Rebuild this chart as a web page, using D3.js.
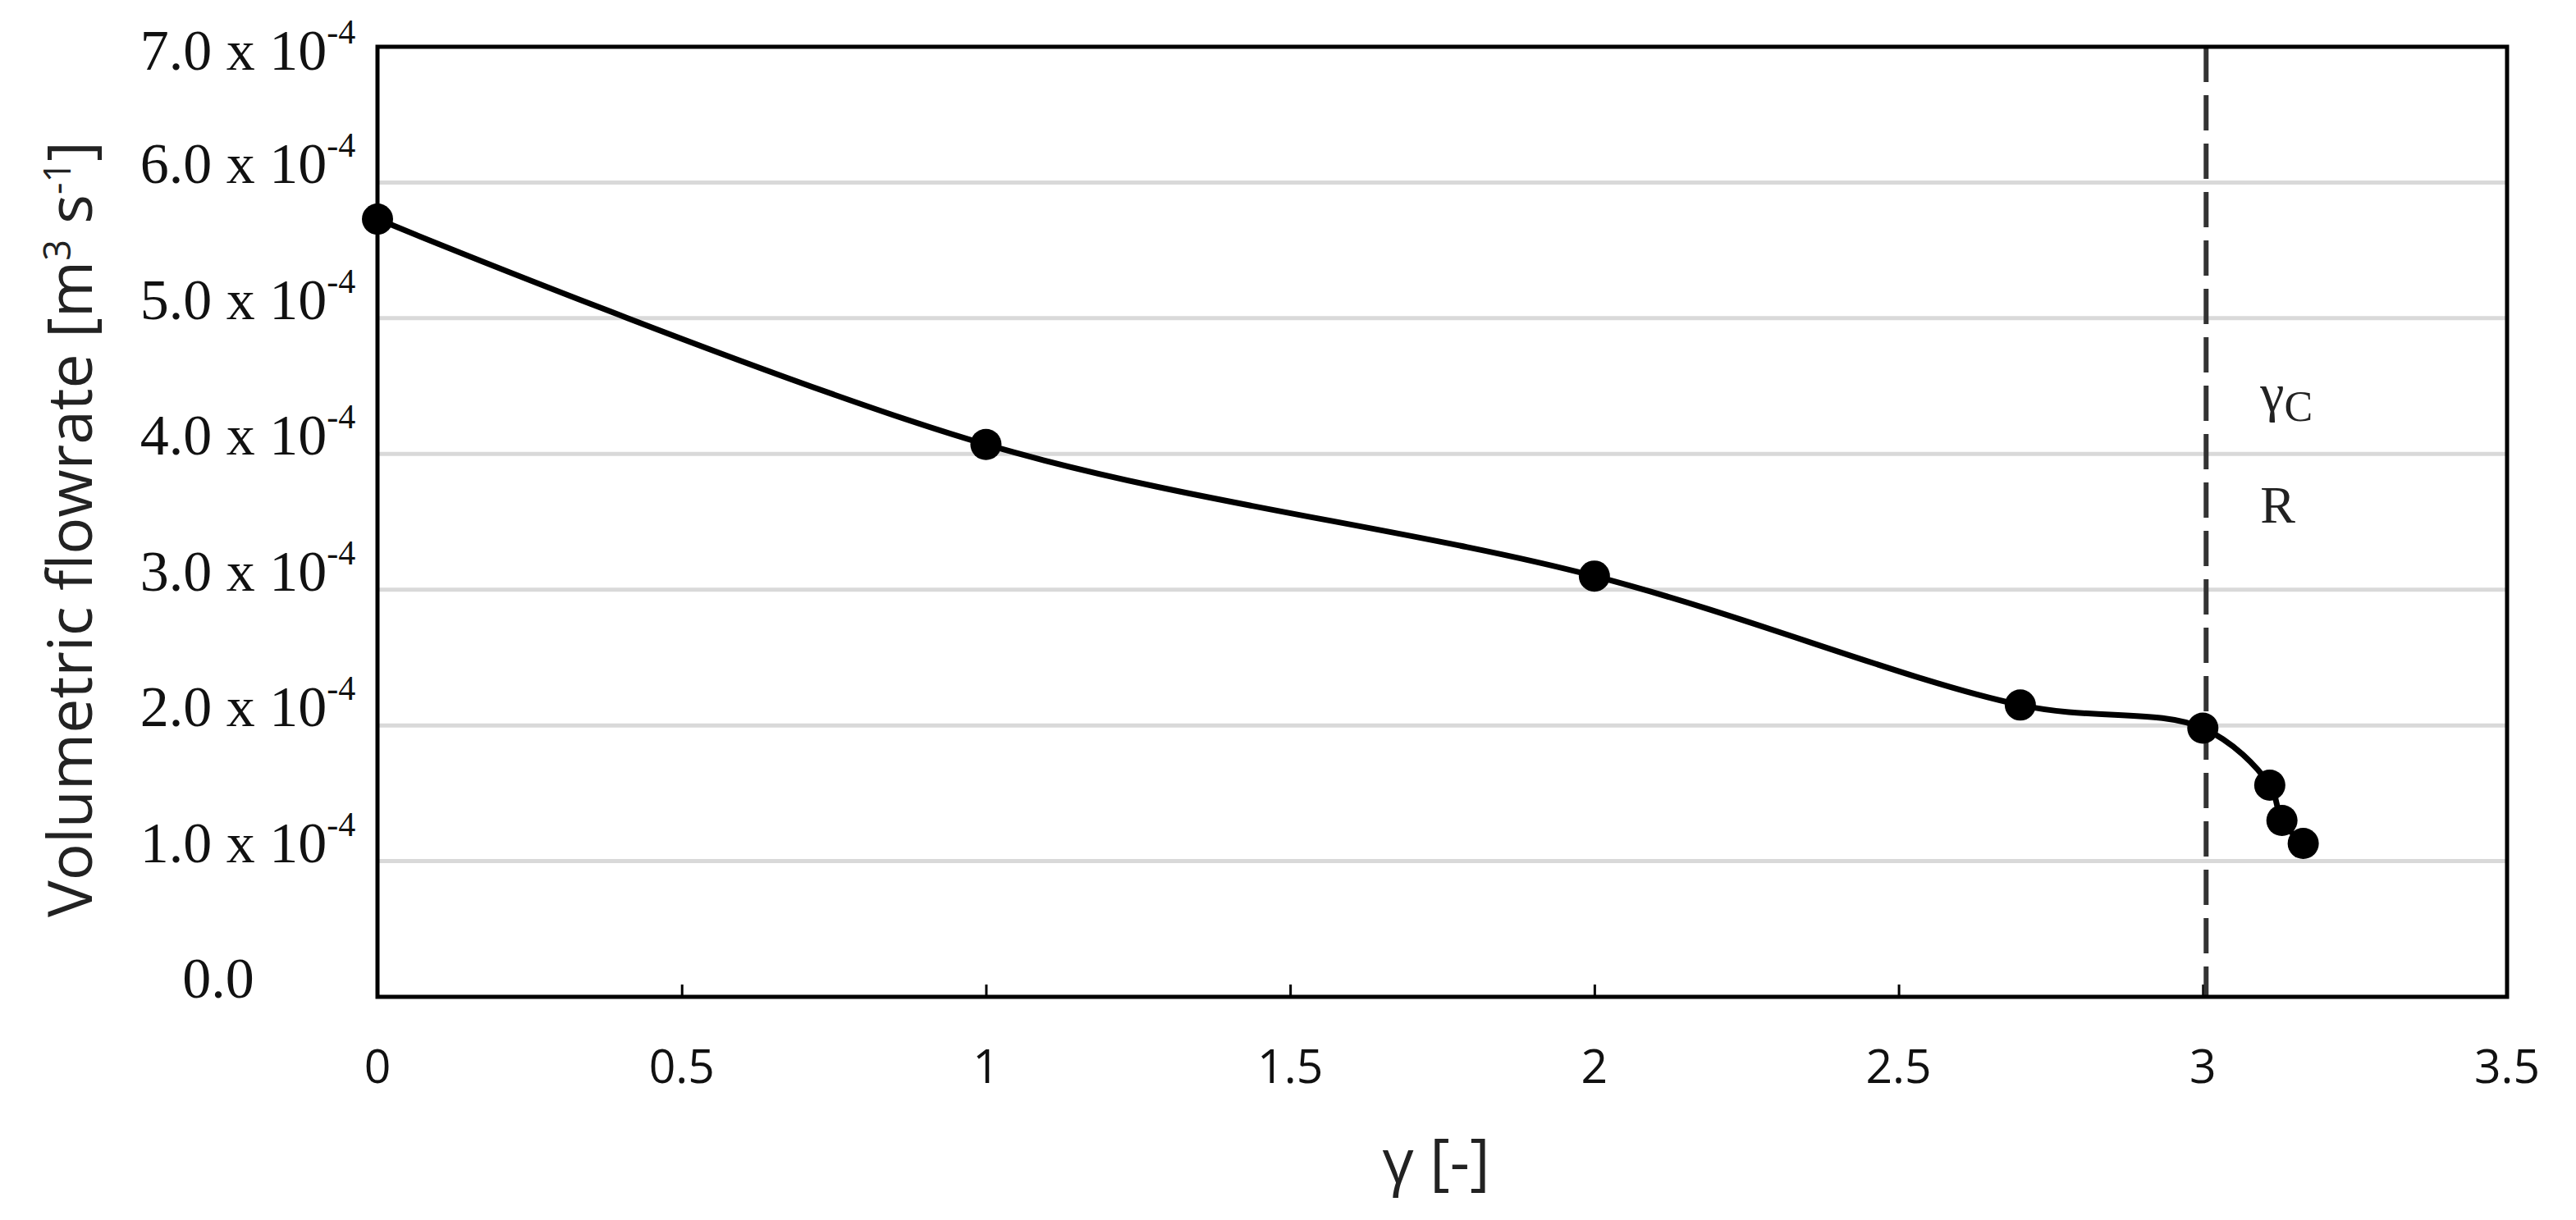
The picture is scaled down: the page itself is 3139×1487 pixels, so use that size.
<!DOCTYPE html>
<html>
<head>
<meta charset="utf-8">
<title>Volumetric flowrate vs gamma</title>
<script src="https://cdn.jsdelivr.net/npm/d3@7"></script>
<style>
    body { margin: 0; background: #ffffff; }
    svg { display: block; }
</style>
</head>
<body>
<div id="chart"></div>
<script>

//=================== DATA ====================================
var gammaValues = [0, 1, 2, 2.7, 3, 3.11, 3.13, 3.165];
var flowrateValues = [5.73e-4, 4.07e-4, 3.10e-4, 2.15e-4, 1.98e-4, 1.56e-4, 1.30e-4, 1.13e-4];

var xTickValues = [0, 0.5, 1, 1.5, 2, 2.5, 3, 3.5];
var xTickLabels = ["0", "0.5", "1", "1.5", "2", "2.5", "3", "3.5"];
var yTickValues = [0, 1e-4, 2e-4, 3e-4, 4e-4, 5e-4, 6e-4, 7e-4];
var yTickMantissas = ["0.0", "1.0", "2.0", "3.0", "4.0", "5.0", "6.0", "7.0"];
var yTickExponent = "-4";

var criticalGamma = 3;

//=================== LAYOUT ====================================
var svgWidth = 3139;
var svgHeight = 1487;
var plotLeft = 460,
    plotRight = 3055,
    plotTop = 57,
    plotBottom = 1215;

var sansFont = "'Open Sans', 'Noto Sans', sans-serif";
var serifFont = "'Liberation Serif', 'DejaVu Serif', serif";

var svg = d3.select("#chart")
    .append("svg")
    .attr("width", svgWidth)
    .attr("height", svgHeight);

var xScale = d3.scaleLinear().domain([0, 3.5]).range([plotLeft, plotRight]);
var yScale = d3.scaleLinear().domain([0, 7e-4]).range([plotBottom, plotTop]);

//=================== GRID ====================================
svg.append("g")
    .attr("class", "grid")
    .selectAll("line")
    .data(yTickValues.slice(1, -1))
    .enter()
    .append("line")
    .attr("x1", plotLeft)
    .attr("x2", plotRight)
    .attr("y1", function (d) { return yScale(d); })
    .attr("y2", function (d) { return yScale(d); })
    .style("stroke", "#d9d9d9")
    .style("stroke-width", 5);

//=================== X AXIS (inside ticks, labels drawn separately) ====================
var xAxis = d3.axisBottom(xScale)
    .tickValues(xTickValues)
    .tickSizeInner(-15)
    .tickSizeOuter(0)
    .tickFormat("");

var xAxisGroup = svg.append("g")
    .attr("transform", "translate(0," + plotBottom + ")")
    .call(xAxis);
xAxisGroup.select(".domain").remove();
xAxisGroup.selectAll(".tick line")
    .style("stroke", "#000")
    .style("stroke-width", 3);

svg.append("g")
    .selectAll("text")
    .data(xTickValues)
    .enter()
    .append("text")
    .attr("x", function (d) { return xScale(d); })
    .attr("y", 1320)
    .attr("text-anchor", "middle")
    .style("font-family", sansFont)
    .style("font-size", "57px")
    .style("fill", "#111")
    .text(function (d, i) { return xTickLabels[i]; });

//=================== Y TICK LABELS ====================================
var yLabels = svg.append("g")
    .selectAll("text")
    .data(yTickValues)
    .enter()
    .append("text")
    .attr("x", function (d) { return d === 0 ? 266 : 302; })
    .attr("y", function (d) { return Math.max(yScale(d) - 22, 62) + 23; })
    .attr("text-anchor", "middle")
    .style("font-family", serifFont)
    .style("font-size", "70px")
    .style("fill", "#111");

yLabels.append("tspan")
    .text(function (d, i) { return d === 0 ? yTickMantissas[i] : yTickMantissas[i] + " x 10"; });

yLabels.filter(function (d) { return d !== 0; })
    .append("tspan")
    .attr("dy", -32)
    .style("font-size", "42px")
    .text(yTickExponent);

//=================== CRITICAL GAMMA LINE ====================================
svg.append("line")
    .attr("x1", xScale(criticalGamma) + 4)
    .attr("x2", xScale(criticalGamma) + 4)
    .attr("y1", plotTop)
    .attr("y2", plotBottom)
    .style("stroke", "#333")
    .style("stroke-width", 6)
    .style("stroke-dasharray", "43,16");

// label of the critical value, split over two lines as in the source
var gammaLabel = svg.append("text")
    .attr("x", xScale(criticalGamma) + 70)
    .attr("y", 513)
    .style("font-family", serifFont)
    .style("fill", "#222");
gammaLabel.append("tspan").style("font-size", "66px").attr("dy", -12).text("γ");
gammaLabel.append("tspan").style("font-size", "52px").attr("dy", 12).text("C");

svg.append("text")
    .attr("x", xScale(criticalGamma) + 70)
    .attr("y", 637)
    .style("font-family", serifFont)
    .style("font-size", "64px")
    .style("fill", "#222")
    .text("R");

//=================== PLOT FRAME ====================================
svg.append("rect")
    .attr("x", plotLeft)
    .attr("y", plotTop)
    .attr("width", plotRight - plotLeft)
    .attr("height", plotBottom - plotTop)
    .style("fill", "none")
    .style("stroke", "#000")
    .style("stroke-width", 5);

//=================== DATA LINE & MARKERS ====================================
var points = gammaValues.map(function (g, i) { return [g, flowrateValues[i]]; });

var lineGenerator = d3.line()
    .x(function (d) { return xScale(d[0]); })
    .y(function (d) { return yScale(d[1]); })
    .curve(d3.curveCatmullRom.alpha(0.5));

svg.append("path")
    .datum(points)
    .attr("d", lineGenerator)
    .style("fill", "none")
    .style("stroke", "#000")
    .style("stroke-width", 7);

svg.append("g")
    .selectAll("circle")
    .data(points)
    .enter()
    .append("circle")
    .attr("cx", function (d) { return xScale(d[0]); })
    .attr("cy", function (d) { return yScale(d[1]); })
    .attr("r", 19)
    .style("fill", "#000");

//=================== AXIS TITLES ====================================
svg.append("text")
    .attr("x", 1750)
    .attr("y", 1442)
    .attr("text-anchor", "middle")
    .style("font-family", sansFont)
    .style("font-size", "75px")
    .style("fill", "#222")
    .text("γ [-]");

var yTitle = svg.append("text")
    .attr("transform", "translate(112,645) rotate(-90)")
    .attr("text-anchor", "middle")
    .style("font-family", sansFont)
    .style("font-size", "75px")
    .style("fill", "#222");
yTitle.append("tspan").text("Volumetric flowrate [m");
yTitle.append("tspan").attr("dy", -26).style("font-size", "45px").text("3");
yTitle.append("tspan").attr("dy", 26).text(" s");
yTitle.append("tspan").attr("dy", -26).style("font-size", "45px").text("-1");
yTitle.append("tspan").attr("dy", 26).text("]");

</script>
</body>
</html>
